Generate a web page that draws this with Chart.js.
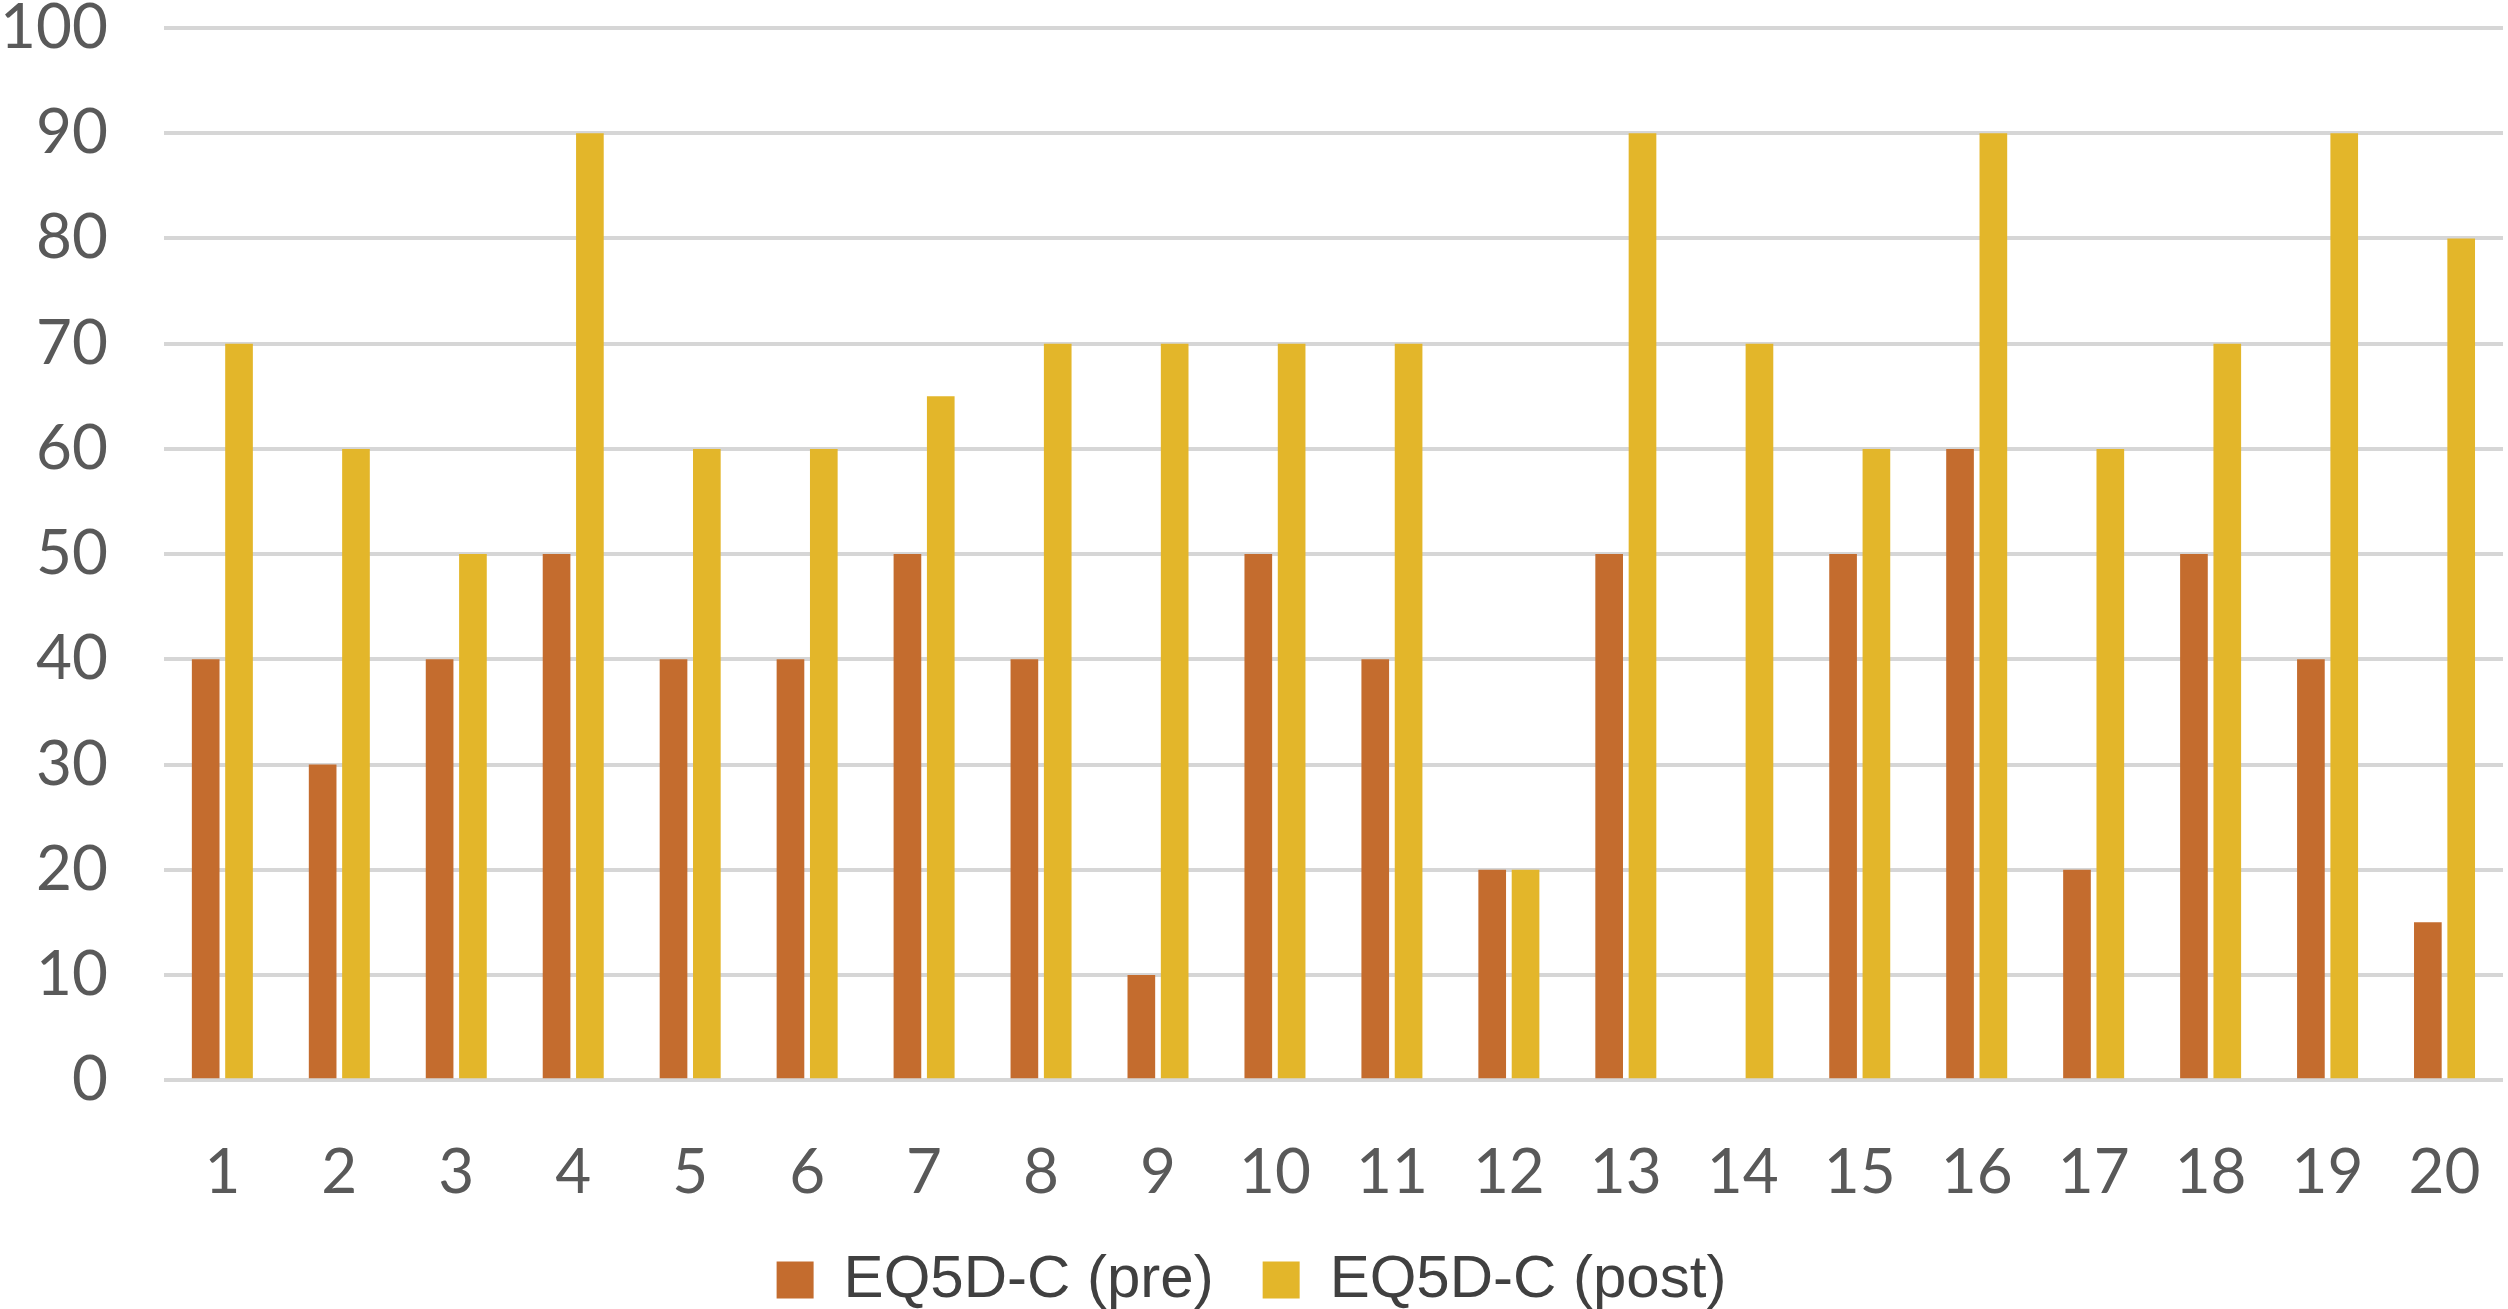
<!DOCTYPE html>
<html>
<head>
<meta charset="utf-8">
<script src="https://cdn.jsdelivr.net/npm/chart.js@4"></script>
<style>
  html, body { margin: 0; padding: 0; background: #ffffff; }
  #wrap { width: 2508px; height: 1309px; }
</style>
</head>
<body>
<div id="wrap"><canvas id="chart" width="2508" height="1309"></canvas></div>
<script>
// Patient numbers along the x axis
var patients = ['1','2','3','4','5','6','7','8','9','10','11','12','13','14','15','16','17','18','19','20'];
// EQ5D-C scores before and after
var preScores  = [40, 30, 40, 50, 40, 40, 50, 40, 10, 50, 40, 20, 50, 0, 50, 60, 20, 50, 40, 15];
var postScores = [70, 60, 50, 90, 60, 60, 65, 70, 70, 70, 70, 20, 90, 70, 60, 90, 60, 70, 90, 80];
var seriesNames = ['EQ5D-C (pre)', 'EQ5D-C (post)'];

var tickFont = "Lato, 'Open Sans', sans-serif";
var xPad = 57, yPad = 56;

// tick padding otherwise leaks into the outer margins, drop it
function noEdgePadding(scale) {
    scale.paddingTop = 0;
    scale.paddingBottom = 0;
    scale.paddingLeft = 0;
    scale.paddingRight = 0;
}

var ctx = document.getElementById('chart').getContext('2d');
new Chart(ctx, {
    type: 'bar',
    data: {
        labels: patients,
        datasets: [{
            label: seriesNames[0],
            data: preScores,
            backgroundColor: '#C46C2E',
            barPercentage: 0.83,
            categoryPercentage: 0.57
        }, {
            label: seriesNames[1],
            data: postScores,
            backgroundColor: '#E3B62A',
            barPercentage: 0.83,
            categoryPercentage: 0.57
        }]
    },
    options: {
        responsive: false,
        devicePixelRatio: 1,
        animation: false,
        layout: { autoPadding: false, padding: { top: 28, right: 5, left: 0, bottom: -11 } },
        plugins: {
            tooltip: { enabled: false },
            legend: {
                position: 'bottom',
                labels: {
                    boxWidth: 37,
                    boxHeight: 37,
                    padding: 49,
                    color: '#404040',
                    font: { family: "'Liberation Sans', Arial, sans-serif", size: 60 }
                }
            }
        },
        scales: {
            x: {
                grid: { display: false },
                border: { display: false },
                // chart.js reserves the tick padding twice, take one back
                afterFit: function(s) { noEdgePadding(s); s.height -= xPad; },
                ticks: {
                    color: '#595959',
                    padding: xPad,
                    maxRotation: 0,
                    font: { family: tickFont, size: 62, lineHeight: 0.9 }
                }
            },
            y: {
                min: 0,
                max: 100,
                grid: { color: '#D6D6D6', lineWidth: 4, drawTicks: false },
                border: { display: false },
                afterFit: function(s) { noEdgePadding(s); s.width -= yPad; },
                ticks: {
                    stepSize: 10,
                    color: '#595959',
                    padding: yPad,
                    font: { family: tickFont, size: 62, lineHeight: 1 }
                }
            }
        }
    }
});
</script>
</body>
</html>
